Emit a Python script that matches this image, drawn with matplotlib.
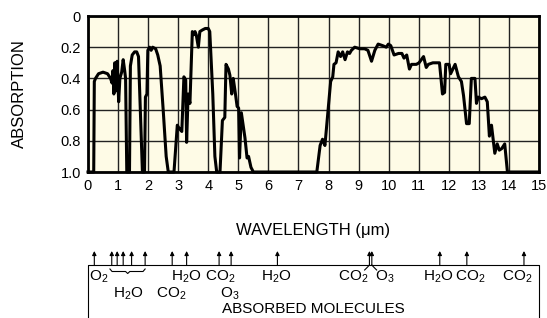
import numpy as np
import matplotlib.pyplot as plt

plt.rcParams['font.family'] = ['Liberation Sans', 'DejaVu Sans']
plt.rcParams['mathtext.default'] = 'regular'

# absorption spectrum
wl = [0.0, 0.19, 0.21, 0.25, 0.35, 0.5, 0.65, 0.75, 0.8, 0.83, 0.86, 0.89, 0.93, 0.97,
      1.02, 1.06, 1.12, 1.17, 1.22, 1.25, 1.29, 1.38, 1.41, 1.47, 1.55, 1.62, 1.68, 1.74,
      1.81, 1.88, 1.91, 1.96, 1.99, 2.05, 2.1, 2.15, 2.25, 2.32, 2.4, 2.5, 2.6, 2.67,
      2.86, 2.97, 3.03, 3.12, 3.19, 3.25, 3.28, 3.33, 3.39, 3.47, 3.52, 3.56, 3.6, 3.67,
      3.72, 3.8, 3.9, 4.0, 4.05, 4.15, 4.22, 4.28, 4.39, 4.47, 4.55, 4.59, 4.67, 4.72,
      4.78, 4.83, 4.89, 4.96, 5.01, 5.04, 5.10, 5.18, 5.22, 5.29, 5.34, 5.42, 5.5,
      7.61, 7.72, 7.80, 7.88, 8.07, 8.14, 8.18, 8.25, 8.32, 8.40, 8.47, 8.55, 8.63, 8.70,
      8.76, 8.87, 9.04, 9.2, 9.31, 9.43, 9.54, 9.65, 9.8, 9.92, 9.99, 10.07, 10.18, 10.33,
      10.44, 10.51, 10.6, 10.69, 10.76, 10.92, 11.01, 11.16, 11.25, 11.32, 11.47, 11.69,
      11.79, 11.86, 11.9, 12.01, 12.06, 12.21, 12.32, 12.42, 12.49, 12.59, 12.68, 12.75,
      12.87, 12.92, 12.98, 13.09, 13.2, 13.28, 13.35, 13.42, 13.53, 13.61, 13.68, 13.76,
      13.86, 13.95, 15.0]
ab = [1.0, 1.0, 0.42, 0.40, 0.37, 0.36, 0.37, 0.40, 0.43, 0.35, 0.50, 0.30, 0.48, 0.29,
      0.55, 0.40, 0.36, 0.28, 0.35, 0.40, 1.0, 1.0, 0.32, 0.25, 0.23, 0.23, 0.26, 0.6,
      1.0, 1.0, 0.52, 0.50, 0.22, 0.20, 0.22, 0.20, 0.21, 0.25, 0.32, 0.6, 0.9, 1.0,
      1.0, 0.70, 0.72, 0.74, 0.39, 0.41, 0.81, 0.50, 0.56, 0.10, 0.12, 0.10, 0.12, 0.20,
      0.10, 0.09, 0.08, 0.08, 0.10, 0.5, 0.9, 1.0, 1.0, 0.67, 0.65, 0.31, 0.34, 0.38,
      0.50, 0.40, 0.48, 0.58, 0.59, 0.91, 0.62, 0.73, 0.78, 0.91, 0.90, 0.97, 1.0,
      1.0, 0.83, 0.79, 0.83, 0.42, 0.39, 0.31, 0.30, 0.23, 0.26, 0.23, 0.28, 0.23, 0.24,
      0.22, 0.20, 0.21, 0.21, 0.22, 0.29, 0.22, 0.18, 0.19, 0.20, 0.18, 0.19, 0.25, 0.24,
      0.24, 0.27, 0.25, 0.34, 0.31, 0.31, 0.30, 0.26, 0.33, 0.31, 0.30, 0.30,
      0.50, 0.49, 0.31, 0.31, 0.37, 0.31, 0.39, 0.42, 0.51, 0.69, 0.69, 0.40,
      0.40, 0.56, 0.52, 0.53, 0.52, 0.55, 0.77, 0.70, 0.88, 0.82, 0.86, 0.85,
      0.82, 1.0, 1.0]

xticks = list(range(0, 16))
yticks = [0, 0.2, 0.4, 0.6, 0.8, 1.0]
ylabels = ['0', '0.2', '0.4', '0.6', '0.8', '1.0']

# molecule arrows (wavelength) and labels
arrow_x = [0.21, 0.79, 0.97, 1.17, 1.45, 1.90, 2.80, 3.28, 4.36, 4.76, 6.30,
           9.36, 9.44, 11.7, 12.6, 14.5]
row1 = [('H$_2$O', 3.28), ('CO$_2$', 4.39), ('H$_2$O', 6.27), ('CO$_2$', 8.83),
        ('O$_3$', 9.86), ('H$_2$O', 11.64), ('CO$_2$', 12.70), ('CO$_2$', 14.28)]
row2 = [('H$_2$O', 1.35), ('CO$_2$', 2.78), ('O$_3$', 4.71)]

W, H = 547, 318
fig = plt.figure(figsize=(5.47, 3.18), dpi=100)
ax = fig.add_axes([88 / W, 1 - 172 / H, (539 - 88) / W, (172 - 16) / H])
ax.set_facecolor('#fefbe6')
ax.plot(wl, ab, color='black', lw=2.2, clip_on=False, zorder=3)
ax.set_xlim(0, 15)
ax.set_ylim(1.0, 0)
ax.set_xticks(xticks)
ax.set_yticks(yticks)
ax.set_yticklabels(ylabels)
ax.grid(True, color='#222222', lw=1.0)
ax.tick_params(length=0, labelsize=10.5, pad=5)
for s in ax.spines.values():
    s.set_linewidth(2)
ax.set_xlabel('WAVELENGTH (μm)', fontsize=12, labelpad=22)
ax.set_ylabel('ABSORPTION', fontsize=12, labelpad=24)

# lower box with absorbed molecules
ax2 = fig.add_axes([88 / W, 0, (539 - 88) / W, 70 / H])
ax2.set_xlim(0, 15)
ax2.set_ylim(318, 248)
ax2.axis('off')
ax2.plot([0, 0, 15, 15], [318, 265, 265, 318], color='black', lw=0.8, clip_on=False)
for x in arrow_x:
    ax2.annotate('', xy=(x, 251), xytext=(x, 265),
                 arrowprops=dict(arrowstyle='-|>', color='black', lw=0.8,
                                 mutation_scale=6, shrinkA=0, shrinkB=0))
ax2.text(0.02, 277, 'O$_2$', fontsize=11, ha='left', va='center')
for t, x in row1:
    ax2.text(x, 277, t, fontsize=11, ha='center', va='center')
for t, x in row2:
    ax2.text(x, 294, t, fontsize=11, ha='center', va='center')
ax2.text(7.5, 309, 'ABSORBED MOLECULES', fontsize=11, ha='center', va='center')
# brace under the water arrows
bx = [0.73, 0.8, 1.25, 1.32, 1.39, 1.83, 1.9]
by = [269, 271.5, 271.5, 273.5, 271.5, 271.5, 269]
ax2.plot(bx, by, color='black', lw=0.8)
# little hook joining CO2 and O3 arrows
ax2.plot([9.2, 9.3, 9.36], [270, 267, 265], color='black', lw=0.8)
ax2.plot([9.44, 9.5, 9.6], [265, 267, 270], color='black', lw=0.8)

fig.savefig('out.png', dpi=100)
